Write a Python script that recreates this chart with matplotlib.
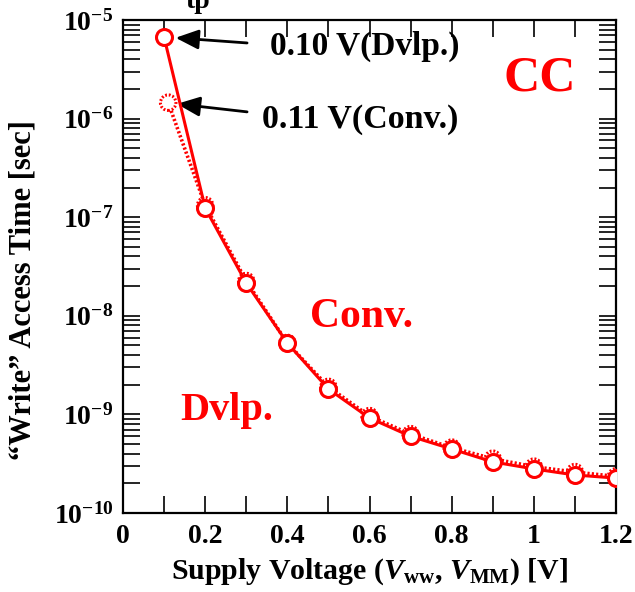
import numpy as np
import matplotlib
matplotlib.use('Agg')
import matplotlib.pyplot as plt
from matplotlib.ticker import FixedLocator, MultipleLocator, FuncFormatter, LogLocator, NullFormatter

plt.rcParams['font.family'] = 'Liberation Serif'
plt.rcParams['font.weight'] = 'bold'
plt.rcParams['mathtext.fontset'] = 'custom'
plt.rcParams['mathtext.rm'] = 'Liberation Serif:bold'
plt.rcParams['mathtext.bf'] = 'Liberation Serif:bold'
plt.rcParams['mathtext.it'] = 'Liberation Serif:italic:bold'

# Dvlp. (solid) and Conv. (dotted) write access time vs supply voltage
v_dvlp = [0.10, 0.2, 0.3, 0.4, 0.5, 0.6, 0.7, 0.8, 0.9, 1.0, 1.1, 1.2]
t_dvlp = [6.7e-6, 1.24e-7, 2.15e-8, 5.3e-9, 1.81e-9, 9.2e-10, 6.0e-10,
          4.46e-10, 3.3e-10, 2.8e-10, 2.43e-10, 2.26e-10]
v_conv = [0.11, 0.2, 0.3, 0.4, 0.5, 0.6, 0.7, 0.8, 0.9, 1.0, 1.1, 1.2]
t_conv = [1.45e-6, 1.32e-7, 2.25e-8, 5.3e-9, 1.9e-9, 9.6e-10, 6.3e-10,
          4.6e-10, 3.55e-10, 2.95e-10, 2.6e-10, 2.35e-10]

xticks = [0, 0.2, 0.4, 0.6, 0.8, 1.0, 1.2]
xtick_labels = ['0', '0.2', '0.4', '0.6', '0.8', '1', '1.2']
yticks = [1e-10, 1e-9, 1e-8, 1e-7, 1e-6, 1e-5]

red = '#ff0000'

fig = plt.figure(figsize=(6.35, 5.92), dpi=100)
ax = fig.add_axes([123/635, 79/592, 493/635, 493/592])

# conv. series underneath, dotted
ax.plot(v_conv, t_conv, color=red, lw=2.6, ls=(0, (0.6, 0.6)), zorder=2)
ax.scatter(v_conv, t_conv, s=125, facecolor='white', edgecolor=red,
           linewidths=2.2, linestyle=(0, (0.6, 0.6)), zorder=3)
# dvlp. series
ax.plot(v_dvlp, t_dvlp, color=red, lw=2.2, zorder=4)
ax.plot(v_dvlp, t_dvlp, ls='none', marker='o', ms=11.5, mfc='white',
        mec=red, mew=2.2, zorder=5)

ax.set_yscale('log')
ax.set_xlim(0, 1.2)
ax.set_ylim(1e-10, 1e-5)
ax.xaxis.set_major_locator(FixedLocator(xticks))
ax.set_xticklabels(xtick_labels)
ax.xaxis.set_minor_locator(MultipleLocator(0.1))
ax.yaxis.set_major_locator(FixedLocator(yticks))
ax.yaxis.set_major_formatter(FuncFormatter(lambda v, p: r'$10^{%d}$' % round(np.log10(v))))
ax.yaxis.set_minor_locator(LogLocator(base=10, subs=np.arange(2, 10)))
ax.yaxis.set_minor_formatter(NullFormatter())

ax.tick_params(which='both', direction='in', top=True, right=True,
               labelsize=20, width=1.2)
ax.tick_params(which='major', length=12)
ax.tick_params(which='minor', length=12)
ax.tick_params(axis='x', pad=8)
ax.tick_params(axis='y', pad=7)
for s in ax.spines.values():
    s.set_linewidth(1.6)

ax.set_xlabel(r'Supply Voltage ($\mathit{V}_{\mathrm{ww}}$, $\mathit{V}_{\mathrm{MM}}$) [V]',
              fontsize=21.5, fontweight='bold', labelpad=5)
ax.set_ylabel('\u201cWrite\u201d Access Time [sec]', fontsize=22,
              fontweight='bold')
ax.yaxis.set_label_coords(-0.174, 0.452)

arrow = dict(arrowstyle='-|>,head_length=0.7,head_width=0.3', color='black',
             lw=2, mutation_scale=20, shrinkA=0, shrinkB=0)
ax.annotate('', xy=(0.128, 6.6e-6), xytext=(0.302, 5.85e-6), arrowprops=arrow)
ax.annotate('', xy=(0.131, 1.41e-6), xytext=(0.302, 1.17e-6), arrowprops=arrow)
ax.text(0.358, 4.41e-6, '0.10 V(Dvlp.)', fontsize=24, fontweight='bold',
        va='baseline', ha='left')
ax.text(0.338, 8.03e-7, '0.11 V(Conv.)', fontsize=24.5, fontweight='bold',
        va='baseline', ha='left')

ax.text(1.015, 2.58e-6, 'CC', fontsize=36, fontweight='bold', color=red,
        ha='center', va='center')
ax.text(0.455, 7.69e-9, 'Conv.', fontsize=30, fontweight='bold', color=red,
        va='baseline', ha='left')
ax.text(0.139, 8.77e-10, 'Dvlp.', fontsize=29, fontweight='bold', color=red,
        va='baseline', ha='left')

fig.text(185/635, 1 - 8/592, 'tp', fontsize=20, fontweight='bold',
         va='baseline', ha='left')

fig.savefig('out.png', dpi=100)
